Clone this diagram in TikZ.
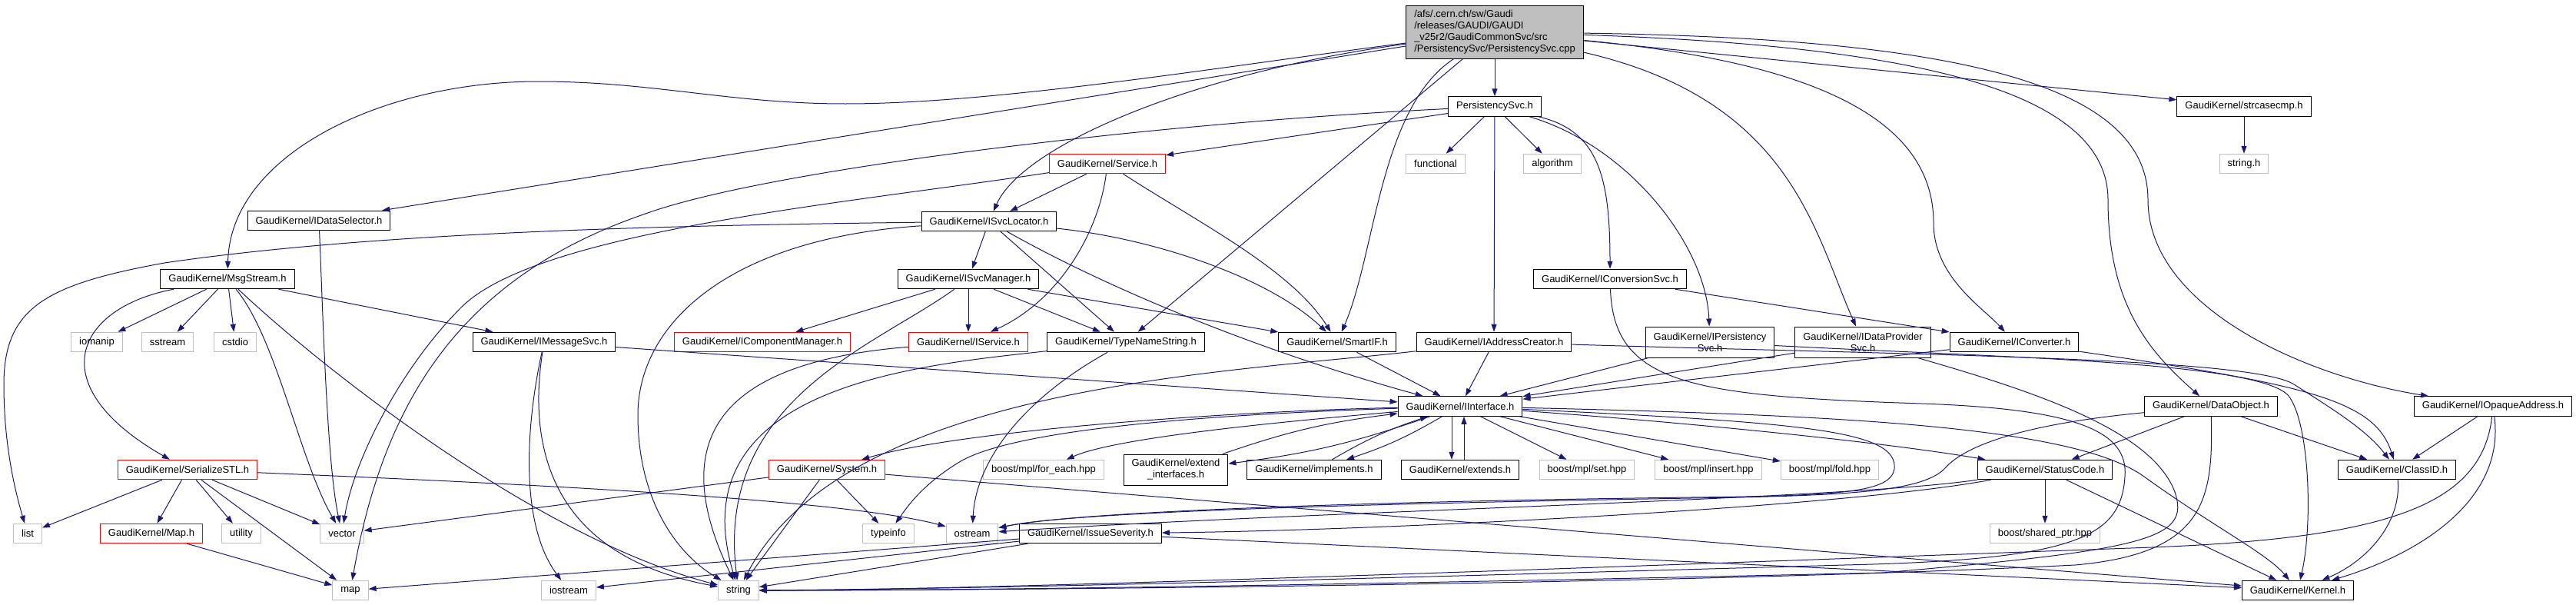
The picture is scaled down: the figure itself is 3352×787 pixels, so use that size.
\documentclass[tikz,border=0pt]{standalone}
\usepackage{fontspec}
\setmainfont{Liberation Sans}
\usetikzlibrary{arrows.meta}
\definecolor{edgeblue}{HTML}{191970}
\definecolor{grey75}{HTML}{BFBFBF}
\tikzset{
  hdr/.style={draw=black, fill=white, line width=1pt, font=\fontsize{13}{15}\selectfont,
    inner xsep=10.5pt, inner ysep=2pt, minimum height=25.5pt},
  trunc/.style={hdr, draw=red},
  sys/.style={hdr, draw=grey75},
  twoline/.style={align=center, minimum height=40pt},
  rootbox/.style={hdr, fill=grey75, align=left, minimum height=69pt, inner xsep=11pt},
  dep/.style={draw=edgeblue, line width=1pt, -{Triangle[length=10pt,width=7pt]}}
}

\begin{document}
\begin{tikzpicture}[x=1pt,y=-1pt]
		\useasboundingbox (0,0) rectangle (3352,787);
		%%%%% NODES %%%%%
		\node[rootbox] (root) at (1945,41.5) {/afs/.cern.ch/sw/Gaudi\\/releases/GAUDI/GAUDI\\\_v25r2/GaudiCommonSvc/src\\/PersistencySvc/PersistencySvc.cpp};
		
		\node[hdr] (psvc) at (1945,138.5) {PersistencySvc.h};
		\node[hdr] (strcmp) at (2920,138.5) {GaudiKernel/strcasecmp.h};
		
		\node[sys] (functional) at (1868,213) {functional};
		\node[sys] (algorithm) at (2020,213) {algorithm};
		\node[sys] (stringh) at (2920,213) {string.h};
		\node[trunc] (service) at (1441,213) {GaudiKernel/Service.h};
		
		\node[hdr] (idatasel) at (415,287) {GaudiKernel/IDataSelector.h};
		\node[hdr] (svcloc) at (1287,288) {GaudiKernel/ISvcLocator.h};
		
		\node[hdr] (msgstream) at (296,363) {GaudiKernel/MsgStream.h};
		\node[hdr] (svcmgr) at (1260,363) {GaudiKernel/ISvcManager.h};
		\node[hdr] (iconvsvc) at (2095,363) {GaudiKernel/IConversionSvc.h};
		
		\node[sys] (iomanip) at (126,445) {iomanip};
		\node[sys] (sstream) at (218,445) {sstream};
		\node[sys] (cstdio) at (306,445) {cstdio};
		\node[hdr] (imsgsvc) at (708,445) {GaudiKernel/IMessageSvc.h};
		\node[trunc] (icompmgr) at (992,445) {GaudiKernel/IComponentManager.h};
		\node[trunc] (iservice) at (1260,445) {GaudiKernel/IService.h};
		\node[hdr] (typename) at (1465,445) {GaudiKernel/TypeNameString.h};
		\node[hdr] (smartif) at (1740,445) {GaudiKernel/SmartIF.h};
		\node[hdr] (iaddr) at (1944,445) {GaudiKernel/IAddressCreator.h};
		\node[hdr,twoline] (ipers) at (2225,445) {GaudiKernel/IPersistency\\Svc.h};
		\node[hdr,twoline] (idataprov) at (2424,445) {GaudiKernel/IDataProvider\\Svc.h};
		\node[hdr] (iconv) at (2621,445) {GaudiKernel/IConverter.h};
		
		\node[hdr] (iinterface) at (1900,528.5) {GaudiKernel/IInterface.h};
		\node[hdr] (dataobj) at (2877,528.5) {GaudiKernel/DataObject.h};
		\node[hdr] (iopaque) at (3244,528.5) {GaudiKernel/IOpaqueAddress.h};
		
		\node[trunc] (serial) at (244,611) {GaudiKernel/SerializeSTL.h};
		\node[trunc] (system) at (1076,611) {GaudiKernel/System.h};
		\node[sys] (foreach) at (1358,611) {boost/mpl/for\_each.hpp};
		\node[hdr,twoline] (extendif) at (1530,611) {GaudiKernel/extend\\\_interfaces.h};
		\node[hdr] (implements) at (1710,611) {GaudiKernel/implements.h};
		\node[hdr] (extends) at (1900,611) {GaudiKernel/extends.h};
		\node[sys] (mplset) at (2065,611) {boost/mpl/set.hpp};
		\node[sys] (mplinsert) at (2223,611) {boost/mpl/insert.hpp};
		\node[sys] (mplfold) at (2381,611) {boost/mpl/fold.hpp};
		\node[hdr] (statuscode) at (2661,611) {GaudiKernel/StatusCode.h};
		\node[hdr] (classid) at (3119,611) {GaudiKernel/ClassID.h};
		
		\node[sys] (list) at (36,694) {list};
		\node[trunc] (maph) at (197,694) {GaudiKernel/Map.h};
		\node[sys] (utility) at (314,694) {utility};
		\node[sys] (vector) at (445,694) {vector};
		\node[sys] (typeinfo) at (1156,694) {typeinfo};
		\node[sys] (ostream) at (1265,694) {ostream};
		\node[hdr] (issue) at (1419,694) {GaudiKernel/IssueSeverity.h};
		\node[sys] (sharedptr) at (2661,694) {boost/shared\_ptr.hpp};
		
		\node[sys] (map) at (456,768) {map};
		\node[sys] (iostream) at (740,768) {iostream};
		\node[sys] (string) at (961,768) {string};
		\node[hdr] (kernel) at (2990,768) {GaudiKernel/Kernel.h};
		
		%%%%% PersistencySvc.cpp %%%%%
		\draw[dep] (root) -- (psvc);
		\draw[dep] (root) -- (strcmp);
		\draw[dep] (root) .. controls (1600,85) and (1300,135) .. (1100,135) .. controls (950,135) and (850,106) .. (700,106) .. controls (500,106) and (300,200) .. (msgstream);
		\draw[dep] (root) -- (idatasel);
		\draw[dep] (root) .. controls (1550,95) and (1330,190) .. (svcloc);
		\draw[dep] (root) .. controls (1795,140) and (1790,330) .. (smartif);
		\draw[dep] (root) -- (typename);
		\draw[dep] (root) .. controls (2330,130) and (2360,300) .. (idataprov);
		\draw[dep] (root) .. controls (2350,80) and (2516,150) .. (2516,290) .. controls (2516,360) and (2580,400) .. (iconv);
		\draw[dep] (root) .. controls (2500,60) and (2743,120) .. (2743,260) .. controls (2743,400) and (2800,460) .. (dataobj);
		\draw[dep] (root) .. controls (2550,50) and (2795,110) .. (2795,260) .. controls (2795,400) and (3000,490) .. (iopaque);
		\draw[dep] (strcmp) -- (stringh);
		
		%%%%% PersistencySvc.h %%%%%
		\draw[dep] (psvc) -- (functional);
		\draw[dep] (psvc) -- (algorithm);
		\draw[dep] (psvc) -- (iaddr);
		\draw[dep] (psvc) .. controls (2080,170) and (2095,230) .. (iconvsvc);
		\draw[dep] (psvc) .. controls (2120,190) and (2220,320) .. (ipers);
		\draw[dep] (psvc) -- (service);
		\draw[dep] (psvc) .. controls (1500,160) and (1000,220) .. (840,278) .. controls (600,360) and (500,520) .. (map);
		
		%%%%% Service.h, IDataSelector.h %%%%%
		\draw[dep] (service) -- (svcloc);
		\draw[dep] (service) .. controls (1430,300) and (1380,390) .. (iservice);
		\draw[dep] (service) .. controls (1560,290) and (1680,350) .. (smartif);
		\draw[dep] (service) .. controls (1100,265) and (700,300) .. (600,400) .. controls (520,480) and (460,600) .. (vector);
		\draw[dep] (idatasel) .. controls (420,400) and (425,600) .. (vector);
		
		%%%%% ISvcLocator.h %%%%%
		\draw[dep] (svcloc) .. controls (900,293) and (500,300) .. (214,342) .. controls (60,370) and (5,400) .. (5,500) .. controls (5,580) and (20,640) .. (list);
		\draw[dep] (svcloc) .. controls (950,310) and (830,420) .. (830,540) .. controls (830,650) and (880,720) .. (string);
		\draw[dep] (svcloc) -- (svcmgr);
		\draw[dep] (svcloc) -- (typename);
		\draw[dep] (svcloc) .. controls (1500,310) and (1650,360) .. (smartif);
		\draw[dep] (svcloc) .. controls (1450,380) and (1650,460) .. (iinterface);
		
		%%%%% MsgStream.h %%%%%
		\draw[dep] (msgstream) -- (iomanip);
		\draw[dep] (msgstream) -- (sstream);
		\draw[dep] (msgstream) -- (cstdio);
		\draw[dep] (msgstream) -- (imsgsvc);
		\draw[dep] (msgstream) .. controls (100,400) and (50,500) .. (serial);
		\draw[dep] (msgstream) .. controls (360,440) and (390,600) .. (vector);
		\draw[dep] (msgstream) .. controls (420,480) and (700,700) .. (string);
		
		%%%%% ISvcManager.h, IConversionSvc.h %%%%%
		\draw[dep] (svcmgr) -- (icompmgr);
		\draw[dep] (svcmgr) -- (iservice);
		\draw[dep] (svcmgr) -- (typename);
		\draw[dep] (svcmgr) -- (smartif);
		\draw[dep] (svcmgr) .. controls (1140,450) and (930,520) .. (string);
		\draw[dep] (iconvsvc) -- (iconv);
		\draw[dep] (iconvsvc) .. controls (2100,500) and (2200,515) .. (2500,525) .. controls (2700,532) and (2770,560) .. (2765,620) .. controls (2760,700) and (2700,728) .. (2400,735) .. controls (1800,752) and (1300,766) .. (string);
		
		%%%%% IMessageSvc.h, IService.h, TypeNameString.h %%%%%
		\draw[dep] (imsgsvc) -- (iinterface);
		\draw[dep] (imsgsvc) .. controls (685,550) and (675,680) .. (iostream);
		\draw[dep] (imsgsvc) .. controls (690,560) and (700,720) .. (string);
		\draw[dep] (iservice) .. controls (950,470) and (860,560) .. (string);
		\draw[dep] (typename) .. controls (1200,475) and (880,500) .. (string);
		\draw[dep] (typename) .. controls (1330,520) and (1270,600) .. (ostream);
		
		%%%%% SmartIF.h ... IConverter.h %%%%%
		\draw[dep] (smartif) -- (iinterface);
		\draw[dep] (iaddr) -- (iinterface);
		\draw[dep] (iaddr) .. controls (1600,485) and (1100,500) .. (string);
		\draw[dep] (iaddr) .. controls (2500,462) and (2930,465) .. (2985,500) .. controls (3040,535) and (3080,560) .. (classid);
		\draw[dep] (ipers) -- (iinterface);
		\draw[dep] (ipers) .. controls (2600,465) and (2940,470) .. (2978,515) .. controls (3005,550) and (3010,680) .. (kernel);
		\draw[dep] (idataprov) -- (iinterface);
		\draw[dep] (idataprov) .. controls (2650,510) and (2800,560) .. (2830,640) .. controls (2850,700) and (2800,715) .. (2450,745) .. controls (1800,760) and (1300,768) .. (string);
		\draw[dep] (iconv) -- (iinterface);
		\draw[dep] (iconv) .. controls (3000,500) and (3090,520) .. (classid);
		
		%%%%% DataObject.h, IOpaqueAddress.h %%%%%
		\draw[dep] (dataobj) -- (statuscode);
		\draw[dep] (dataobj) -- (classid);
		\draw[dep] (dataobj) .. controls (2650,550) and (2560,575) .. (2530,610) .. controls (2500,640) and (2400,645) .. (2200,648) .. controls (1800,655) and (1400,665) .. (ostream);
		\draw[dep] (dataobj) .. controls (2880,650) and (2870,720) .. (2700,735) .. controls (2200,760) and (1300,768) .. (string);
		\draw[dep] (iopaque) -- (classid);
		\draw[dep] (iopaque) .. controls (3260,650) and (3150,720) .. (kernel);
		\draw[dep] (iopaque) .. controls (3230,660) and (3100,700) .. (2800,712) .. controls (2300,730) and (1300,768) .. (string);
		
		%%%%% IInterface.h %%%%%
		\draw[dep] (iinterface) .. controls (1600,535) and (1250,560) .. (system);
		\draw[dep] (iinterface) .. controls (1650,550) and (1450,570) .. (foreach);
		\draw[dep] (iinterface) to[bend left=6] (extendif);
		\draw[dep] (extendif) to[bend left=6] (iinterface);
		\draw[dep] (iinterface) to[bend left=6] (implements);
		\draw[dep] (implements) to[bend left=6] (iinterface);
		\draw[dep] ([xshift=-11pt]iinterface.south) -- ([xshift=-11pt]extends.north);
		\draw[dep] ([xshift=5pt]extends.north) -- ([xshift=5pt]iinterface.south);
		\draw[dep] (iinterface) -- (mplset);
		\draw[dep] (iinterface) -- (mplinsert);
		\draw[dep] (iinterface) -- (mplfold);
		\draw[dep] (iinterface) .. controls (2200,550) and (2450,575) .. (statuscode);
		\draw[dep] (iinterface) .. controls (2400,540) and (2700,555) .. (2790,620) .. controls (2880,685) and (2950,720) .. (kernel);
		\draw[dep] (iinterface) .. controls (2350,550) and (2470,560) .. (2465,610) .. controls (2460,640) and (2400,645) .. (2200,647) .. controls (1800,652) and (1400,665) .. (ostream);
		\draw[dep] (iinterface) .. controls (1550,540) and (1320,560) .. (1250,600) .. controls (1200,630) and (1180,660) .. (typeinfo);
		
		%%%%% System.h, StatusCode.h, IssueSeverity.h %%%%%
		\draw[dep] (system) -- (vector);
		\draw[dep] (system) -- (typeinfo);
		\draw[dep] (system) -- (string);
		\draw[dep] (system) -- (kernel);
		\draw[dep] (statuscode) -- (sharedptr);
		\draw[dep] (statuscode) -- (kernel);
		\draw[dep] (statuscode) .. controls (2400,660) and (1800,690) .. (issue);
		\draw[dep] (statuscode) .. controls (2400,650) and (1700,665) .. (ostream);
		\draw[dep] (issue) -- (map);
		\draw[dep] (issue) -- (iostream);
		\draw[dep] (issue) -- (string);
		\draw[dep] (issue) -- (kernel);
		
		%%%%% SerializeSTL.h, Map.h, ClassID.h %%%%%
		\draw[dep] (serial) -- (list);
		\draw[dep] (serial) -- (maph);
		\draw[dep] (serial) -- (utility);
		\draw[dep] (serial) -- (vector);
		\draw[dep] (serial) -- (map);
		\draw[dep] (serial) .. controls (700,630) and (1100,650) .. (ostream);
		\draw[dep] (maph) -- (map);
		\draw[dep] (classid) .. controls (3125,680) and (3080,730) .. (kernel);
		%%%%% END %%%%%
	\end{tikzpicture}
\end{document}
